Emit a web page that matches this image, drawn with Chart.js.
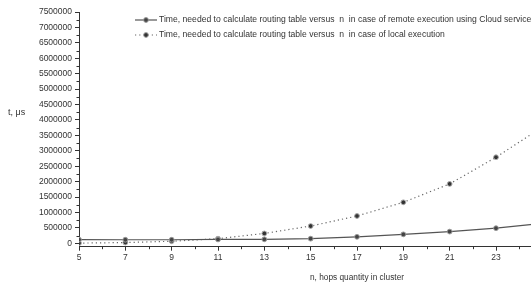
<!DOCTYPE html>
<html>
<head>
<meta charset="utf-8">
<script src="https://cdn.jsdelivr.net/npm/chart.js@4/dist/chart.umd.min.js"></script>
<style>
  html, body { margin: 0; padding: 0; background: #fff; overflow: hidden; width: 531px; height: 284px; }
  #wrap { width: 640px; height: 284px; }
</style>
</head>
<body>
<div id="wrap"><canvas id="c" width="640" height="284"></canvas></div>
<script>
// ---- data ----
const nValues = [5, 7, 9, 11, 13, 15, 17, 19, 21, 23, 25];
const remoteTime = [120000, 115000, 115000, 125000, 130000, 150000, 210000, 290000, 380000, 490000, 645000];
const localTime = [6000, 24000, 66000, 150000, 320000, 560000, 885000, 1330000, 1925000, 2790000, 3770000];
const xTickValues = [5, 7, 9, 11, 13, 15, 17, 19, 21, 23, 25, 27];
const yTickValues = [0, 500000, 1000000, 1500000, 2000000, 2500000, 3000000, 3500000, 4000000, 4500000, 5000000, 5500000, 6000000, 6500000, 7000000, 7500000];
const seriesLabels = [
  'Time, needed to calculate routing table versus  n  in case of remote execution using Cloud service',
  'Time, needed to calculate routing table versus  n  in case of local execution'
];
const xTitle = 'n, hops quantity in cluster';
const yTitle = 't, \u03bcs';

const FONT = '"Liberation Sans", Arial, sans-serif';

function pts(ys) { return nValues.map((n, i) => ({ x: n, y: ys[i] })); }

const decorations = {
  id: 'decorations',
  afterDraw(chart) {
    const ctx = chart.ctx, xs = chart.scales.x, ys = chart.scales.y;
    ctx.save();
    ctx.strokeStyle = '#333';
    ctx.lineWidth = 1;
    ctx.beginPath();
    for (let i = 0; i < xTickValues.length; i++) {
      const v = xTickValues[i] + 1;
      const px = Math.round(xs.getPixelForValue(v)) + 0.5;
      ctx.moveTo(px, ys.bottom); ctx.lineTo(px, ys.bottom + 2.5);
    }
    for (let i = 0; i < yTickValues.length - 1; i++) {
      const v = yTickValues[i] + 250000;
      const py = Math.round(ys.getPixelForValue(v)) + 0.5;
      ctx.moveTo(xs.left, py); ctx.lineTo(xs.left - 2.5, py);
    }
    ctx.stroke();
    // y axis title (horizontal, as in the reference)
    ctx.fillStyle = '#333';
    ctx.font = '9px ' + FONT;
    ctx.textBaseline = 'middle';
    ctx.textAlign = 'left';
    ctx.fillText(yTitle, 8, 113);
    // legend
    ctx.font = '8.6px ' + FONT;
    chart.data.datasets.forEach((ds, i) => {
      const y = 20 + i * 15;
      ctx.save();
      ctx.strokeStyle = ds.borderColor;
      ctx.lineWidth = ds.borderWidth;
      ctx.setLineDash(ds.borderDash || []);
      ctx.beginPath(); ctx.moveTo(135, y); ctx.lineTo(157, y); ctx.stroke();
      ctx.setLineDash([]);
      ctx.beginPath(); ctx.arc(146, y, ds.pointRadius, 0, Math.PI * 2);
      ctx.fillStyle = ds.pointBackgroundColor; ctx.fill();
      ctx.strokeStyle = ds.pointBorderColor; ctx.lineWidth = ds.pointBorderWidth; ctx.stroke();
      ctx.restore();
      ctx.fillStyle = '#333';
      ctx.fillText(ds.label, 159, y);
    });
    ctx.restore();
  }
};

new Chart(document.getElementById('c'), {
  type: 'line',
  data: {
    datasets: [
      {
        label: seriesLabels[0],
        data: pts(remoteTime),
        borderColor: '#555',
        borderWidth: 1.2,
        pointStyle: 'circle',
        pointRadius: 2.4,
        pointBackgroundColor: '#444',
        pointBorderColor: '#999',
        pointBorderWidth: 1,
        tension: 0
      },
      {
        label: seriesLabels[1],
        data: pts(localTime),
        borderColor: '#666',
        borderWidth: 1.2,
        borderDash: [1.2, 3],
        pointStyle: 'circle',
        pointRadius: 2.4,
        pointBackgroundColor: '#333',
        pointBorderColor: '#aaa',
        pointBorderWidth: 1,
        tension: 0
      }
    ]
  },
  options: {
    responsive: false,
    animation: false,
    layout: { padding: { top: 12, right: 0, bottom: 0, left: 0 } },
    plugins: { legend: { display: false }, tooltip: { enabled: false } },
    scales: {
      x: {
        type: 'linear',
        min: 5,
        max: 29,
        afterBuildTicks(scale) { scale.ticks = xTickValues.map(v => ({ value: v })); },
        afterFit(scale) { scale.height = 37.3; },
        border: { display: true, color: '#333', width: 1 },
        grid: { drawOnChartArea: false, drawTicks: true, tickLength: 4, tickColor: '#333' },
        ticks: { color: '#333', font: { family: FONT, size: 8.5 }, padding: 2, maxRotation: 0, autoSkip: false,
                 callback: v => String(v) },
        title: { display: true, text: xTitle, color: '#333', font: { family: FONT, size: 8.3 }, padding: { top: 0, bottom: 1.5 } }
      },
      y: {
        type: 'linear',
        min: -110000,
        max: 7500000,
        afterBuildTicks(scale) { scale.ticks = yTickValues.map(v => ({ value: v })); },
        afterFit(scale) { scale.width = 79; },
        border: { display: true, color: '#333', width: 1 },
        grid: { drawOnChartArea: false, drawTicks: true, tickLength: 4, tickColor: '#333' },
        ticks: { color: '#333', font: { family: FONT, size: 8.5 }, padding: 3, autoSkip: false,
                 callback: v => String(v) }
      }
    }
  },
  plugins: [decorations]
});
</script>
</body>
</html>
